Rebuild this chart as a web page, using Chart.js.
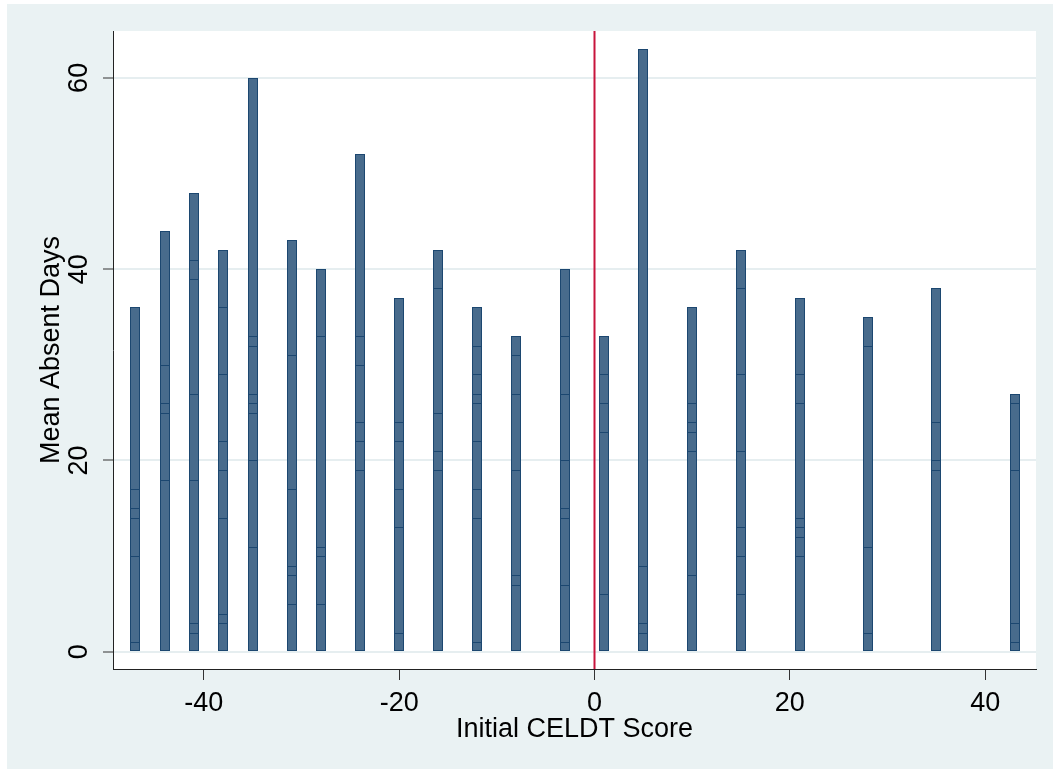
<!DOCTYPE html>
<html>
<head>
<meta charset="utf-8">
<title>Mean Absent Days by Initial CELDT Score</title>
<script src="https://cdn.jsdelivr.net/npm/chart.js@4.4.1/dist/chart.umd.min.js"></script>
<style>
  html, body { margin: 0; padding: 0; background: #ffffff; }
  #wrap { width: 1053px; height: 769px; }
</style>
</head>
<body>
<div id="wrap"><canvas id="absentChart" width="1053" height="769"></canvas></div>
<script>
// Data
const scores = [-47, -44, -41, -38, -35, -31, -28, -24, -20, -16, -12, -8, -3, 1, 5, 10, 15, 21, 28, 35, 43];
// every bar drawn at each score (they overlap, so shorter ones show as lines)
const absentDays = [
  [36, 17, 15, 14, 10, 1],
  [44, 30, 26, 25, 18],
  [48, 41, 39, 27, 18, 3, 2],
  [42, 36, 29, 22, 19, 14, 4, 3],
  [60, 33, 32, 27, 26, 25, 20, 11],
  [43, 31, 17, 9, 8, 5],
  [40, 33, 11, 10, 5],
  [52, 33, 30, 24, 22, 19],
  [37, 24, 22, 17, 13, 2],
  [42, 38, 25, 21, 19],
  [36, 32, 29, 27, 26, 22, 17, 14, 1],
  [33, 31, 27, 19, 8, 7],
  [40, 33, 27, 20, 15, 14, 7, 1],
  [33, 29, 26, 23, 6],
  [63, 9, 3, 2],
  [36, 26, 24, 23, 21, 8],
  [42, 38, 29, 21, 13, 10, 6],
  [37, 29, 26, 14, 13, 12, 10],
  [35, 32, 11, 2],
  [38, 24, 20, 19],
  [27, 26, 19, 3, 1]
];
const xTicks = [-40, -20, 0, 20, 40];
const yTicks = [0, 20, 40, 60];
const cutoff = 0;

const FONT = '"Liberation Sans", Arial, Helvetica, sans-serif';
const OUTER_BG = '#eaf2f3';

// build points, tallest first so shorter bars are drawn on top
function buildPoints() {
  const pts = [];
  scores.forEach((s, i) => {
    const hs = absentDays[i].slice().sort((a, b) => b - a);
    hs.forEach(h => pts.push({ x: s, y: h }));
  });
  return pts;
}

// Background, pixel snapping, cutoff line and rotated y labels
const stataLook = {
  id: 'stataLook',
  beforeDraw(chart) {
    const { ctx, chartArea: a } = chart;
    ctx.save();
    ctx.fillStyle = '#ffffff';
    ctx.fillRect(0, 0, chart.width, chart.height);
    ctx.fillStyle = OUTER_BG;
    ctx.fillRect(7, 4, chart.width - 7, chart.height - 4);
    ctx.fillStyle = '#ffffff';
    ctx.fillRect(a.left, a.top, a.right - a.left, a.bottom - a.top);
    ctx.restore();
  },
  beforeDatasetsDraw(chart) {
    // snap bars to whole pixels so overlapping outlines stay crisp
    chart.getDatasetMeta(0).data.forEach(el => {
      el.x = Math.round(el.x);
      el.width = Math.round(el.width);
      el.y = Math.round(el.y);
      el.base = Math.round(el.base);
    });
  },
  afterDatasetsDraw(chart) {
    const { ctx, chartArea: a, scales } = chart;
    const px = Math.round(scales.x.getPixelForValue(cutoff)) - 0.5;
    ctx.save();
    ctx.strokeStyle = '#c8143c';
    ctx.lineWidth = 2;
    ctx.beginPath();
    ctx.moveTo(px, a.top);
    ctx.lineTo(px, a.bottom);
    ctx.stroke();
    ctx.restore();
  },
  afterDraw(chart) {
    const { ctx, scales } = chart;
    ctx.save();
    ctx.fillStyle = '#000000';
    ctx.font = '27px ' + FONT;
    ctx.textAlign = 'center';
    ctx.textBaseline = 'alphabetic';
    yTicks.forEach(v => {
      const py = scales.y.getPixelForValue(v);
      ctx.save();
      ctx.translate(87, py);
      ctx.rotate(-Math.PI / 2);
      ctx.fillText(String(v), 0, 0);
      ctx.restore();
    });
    ctx.restore();
  }
};

function drawChart() {
  const ctx = document.getElementById('absentChart');
  new Chart(ctx, {
    type: 'bar',
    data: {
      datasets: [{
        label: 'Mean Absent Days',
        data: buildPoints(),
        backgroundColor: '#486b8c',
        borderColor: '#1c4770',
        borderWidth: 1,
        borderSkipped: false,
        categoryPercentage: 1,
        barPercentage: 0.35
      }]
    },
    options: {
      responsive: false,
      animation: false,
      devicePixelRatio: 1,
      layout: { padding: { left: 7, top: 31, right: 17, bottom: 0 } },
      plugins: {
        legend: { display: false },
        tooltip: { enabled: false }
      },
      scales: {
        x: {
          type: 'linear',
          offset: false,
          min: -49.3,
          max: 45.2,
          afterBuildTicks: (scale) => { scale.ticks = xTicks.map(v => ({ value: v })); },
          afterFit: (scale) => { scale.height = 100; },
          grid: {
            display: true,
            offset: false,
            drawOnChartArea: false,
            drawTicks: true,
            tickLength: 11,
            tickColor: '#333333',
            tickWidth: 1
          },
          border: { display: true, color: '#222222', width: 1 },
          ticks: {
            color: '#000000',
            font: { family: FONT, size: 27 },
            padding: 7,
            maxRotation: 0,
            autoSkip: false
          },
          title: {
            display: true,
            text: 'Initial CELDT Score',
            color: '#000000',
            font: { family: FONT, size: 27, lineHeight: 1.2 },
            padding: { top: 0, bottom: 23 }
          }
        },
        y: {
          type: 'linear',
          min: -1.8,
          max: 64.9,
          afterBuildTicks: (scale) => { scale.ticks = yTicks.map(v => ({ value: v })); },
          afterFit: (scale) => { scale.width = 106; },
          grid: {
            color: '#e6eef0',
            lineWidth: 2,
            drawTicks: true,
            tickLength: 10,
            tickColor: '#333333',
            tickWidth: 1
          },
          border: { display: true, color: '#222222', width: 1 },
          ticks: { display: false },
          title: {
            display: true,
            text: 'Mean Absent Days',
            color: '#000000',
            font: { family: FONT, size: 27, lineHeight: 1.2 },
            padding: { top: 28, bottom: 0 }
          }
        }
      }
    },
    plugins: [stataLook]
  });
}

document.addEventListener('DOMContentLoaded', drawChart);
</script>
</body>
</html>
